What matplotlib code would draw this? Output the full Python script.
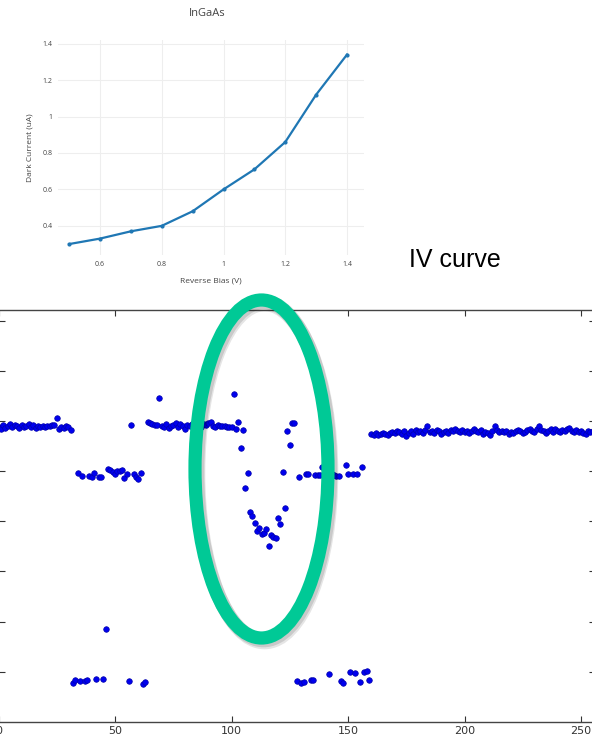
import numpy as np
import matplotlib
matplotlib.use("Agg")
import matplotlib.pyplot as plt
from matplotlib.patches import Ellipse

# IV curve (top panel)
iv_bias = [0.5, 0.6, 0.7, 0.8, 0.9, 1.0, 1.1, 1.2, 1.3, 1.4]
iv_current = [0.30, 0.33, 0.37, 0.40, 0.48, 0.60, 0.71, 0.86, 1.12, 1.34]
iv_xticks = [0.6, 0.8, 1.0, 1.2, 1.4]
iv_xticklabels = ["0.6", "0.8", "1", "1.2", "1.4"]
iv_yticks = [0.4, 0.6, 0.8, 1.0, 1.2, 1.4]
iv_yticklabels = ["0.4", "0.6", "0.8", "1", "1.2", "1.4"]

# scatter samples (bottom panel), one value per sample index
seg_0_31 = [5.88, 5.84, 5.92, 5.86, 5.90, 5.93, 5.87, 5.91, 5.89, 5.85,
            5.92, 5.88, 5.90, 5.94, 5.87, 5.91, 5.86, 5.89, 5.88, 5.90,
            5.87, 5.89, 5.90, 5.91, 5.92, 6.06, 5.84, 5.88, 5.86, 5.90,
            5.88, 5.82]
seg_32_63 = [0.78, 0.84, 4.96, 0.82, 4.90, 0.82, 0.83, 4.90, 4.88, 4.96,
             0.86, 4.88, 4.88, 0.86, 1.85, 5.04, 5.02, 4.98, 4.94, 5.00,
             5.00, 5.02, 4.86, 4.94, 0.82, 5.92, 4.94, 4.88, 4.84, 4.96,
             0.76, 0.80]
seg_64_127 = [5.98, 5.96, 5.94, 5.92, 5.91, 6.45, 5.89, 5.88, 5.93, 5.86,
              5.90, 5.92, 5.95, 5.88, 5.93, 5.90, 5.84, 5.91, 5.89, 5.93,
              5.95, 5.90, 5.92, 5.88, 5.94, 5.91, 5.96, 5.98, 5.90, 5.88,
              5.92, 5.89, 5.90, 5.89, 5.88, 5.88, 5.87,
              6.53, 5.84, 5.98, 5.46, 5.82, 4.66, 4.96, 4.18, 4.10, 3.96,
              3.80, 3.86, 3.74, 3.76, 3.84, 3.51, 3.72, 3.69, 3.67, 4.06,
              3.94, 4.98, 4.26, 5.80, 5.52, 5.96, 5.96]
seg_128_159 = [0.82, 4.88, 0.78, 0.80, 4.94, 4.94, 0.84, 0.84, 4.92, 4.92,
               4.92, 5.08, 4.92, 4.90, 0.96, 4.94, 4.92, 4.90, 4.90, 0.82,
               0.78, 5.12, 4.94, 1.00, 4.94, 0.98, 4.94, 0.80, 5.08, 1.00,
               1.02, 0.84]
seg_160_255 = [5.74, 5.72, 5.75, 5.71, 5.73, 5.76, 5.74, 5.72, 5.76, 5.78,
               5.75, 5.79, 5.77, 5.74, 5.80, 5.69, 5.76, 5.79, 5.74, 5.81,
               5.77, 5.80, 5.75, 5.82, 5.90, 5.78, 5.80, 5.76, 5.81, 5.79,
               5.74, 5.77, 5.80, 5.76, 5.82, 5.79, 5.83, 5.80, 5.78, 5.81,
               5.77, 5.79, 5.76, 5.80, 5.84, 5.79, 5.77, 5.81, 5.74, 5.78,
               5.76, 5.72, 5.79, 5.90, 5.81, 5.78, 5.80, 5.77, 5.79, 5.74,
               5.78, 5.76, 5.80, 5.82, 5.79, 5.76, 5.78, 5.81, 5.84, 5.80,
               5.78, 5.83, 5.90, 5.82, 5.79, 5.76, 5.80, 5.83, 5.78, 5.84,
               5.80, 5.77, 5.82, 5.79, 5.83, 5.86, 5.80, 5.78, 5.82, 5.77,
               5.80, 5.76, 5.73, 5.79, 5.78, 5.80]
scan_xticks = [0, 50, 100, 150, 200, 250]
scan_yticks = [1, 2, 3, 4, 5, 6, 7, 8]

scan_y = np.array(seg_0_31 + seg_32_63 + seg_64_127 + seg_128_159 + seg_160_255)
scan_x = np.arange(len(scan_y))

fig = plt.figure(figsize=(5.92, 7.35), dpi=100)
W, H = 592, 735

# ---- top: plotly-like IV curve ----
grey = "#444444"
ax1 = fig.add_axes([58 / W, 1 - 255 / H, 306 / W, 215 / H])
ax1.plot(iv_bias, iv_current, color="#1f77b4", lw=1.6, marker="o", ms=2)
ax1.set_xlim(0.464, 1.455)
ax1.set_ylim(0.24, 1.42)
ax1.set_xticks(iv_xticks)
ax1.set_xticklabels(iv_xticklabels)
ax1.set_yticks(iv_yticks)
ax1.set_yticklabels(iv_yticklabels)
ax1.grid(True, color="#eeeeee", lw=0.8)
ax1.set_axisbelow(True)
for s in ax1.spines.values():
    s.set_visible(False)
ax1.tick_params(length=0, labelsize=5, labelcolor=grey, pad=4)
for lab in ax1.get_xticklabels() + ax1.get_yticklabels():
    lab.set_family("Open Sans")
ax1.set_xlabel("Reverse Bias (V)", fontsize=6, color=grey, family="Open Sans", labelpad=7)
ax1.set_ylabel("Dark Current (uA)", fontsize=6, color=grey, family="Open Sans", labelpad=6)
fig.text(207 / W, 1 - 13 / H, "InGaAs", ha="center", va="center",
         fontsize=8, color=grey, family="Open Sans")

fig.text(455 / W, 1 - 260 / H, "IV curve", ha="center", va="center",
         fontsize=18, color="black", family="Liberation Sans")

# ---- bottom: scatter of samples ----
ax2 = fig.add_axes([-1.5 / W, 1 - 722 / H, 596.5 / W, 412 / H])
ax2.plot(scan_x, scan_y, "o", ms=4.0, mfc="#0000ee", mec="#0000aa", mew=0.5)
ax2.set_xlim(0, 256)
ax2.set_ylim(0, 8.21)
ax2.set_xticks(scan_xticks)
ax2.set_yticks(scan_yticks)
ax2.tick_params(direction="in", length=4, width=0.8, top=True, right=True,
                labelleft=False, labelsize=8, colors="#333333", pad=3)
for s in ax2.spines.values():
    s.set_color("#444444")
    s.set_linewidth(1.0)

# green highlight ellipse with a soft shadow
for dx, dy, a in [(3, 4, 0.10), (2, 2, 0.12)]:
    fig.add_artist(Ellipse(((261.5 + dx) / W, 1 - (469 + dy) / H), 133 / W, 338 / H,
                           transform=fig.transFigure, fill=False,
                           ec="black", lw=10.5, alpha=a))
fig.add_artist(Ellipse((261.5 / W, 1 - 469 / H), 133 / W, 338 / H,
                       transform=fig.transFigure, fill=False,
                       ec="#00c996", lw=9.5))

fig.savefig("out.png", dpi=100)
